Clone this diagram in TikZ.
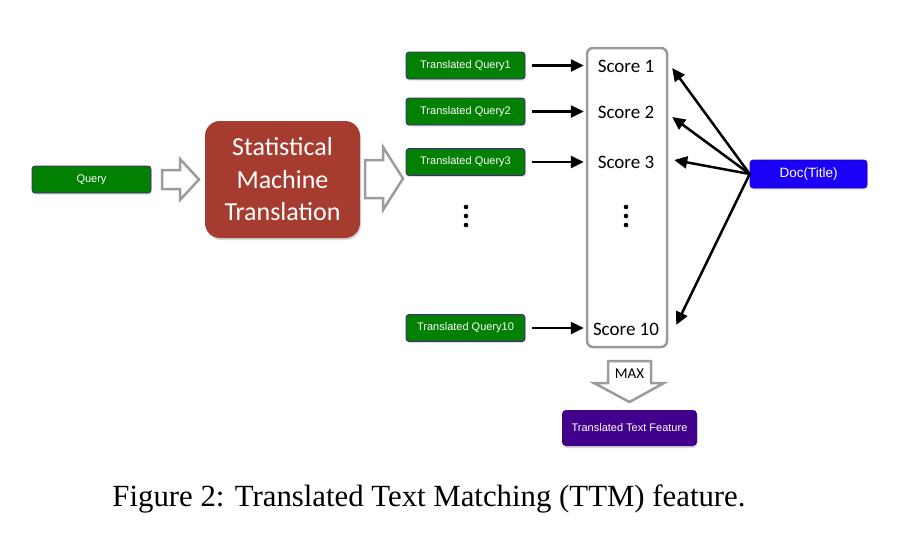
\documentclass[tikz,border=0pt]{standalone}
\usepackage{fontspec}
\setmainfont{Liberation Serif}
\newfontfamily\arialf{Liberation Sans}
\newfontfamily\calib{Carlito}
\usetikzlibrary{arrows.meta,shadows}
\definecolor{qgreen}{HTML}{018001}
\definecolor{qborder}{HTML}{4A1E8A}
\definecolor{smtred}{HTML}{A63C2F}
\definecolor{docblue}{HTML}{1C00F5}
\definecolor{featpurple}{HTML}{41008C}
\definecolor{hollowgray}{HTML}{9C9C9C}
\definecolor{scoregray}{HTML}{9A9A9A}
\tikzset{
  qbox/.style={draw=qborder, line width=0.8pt, fill=qgreen, rounded corners=3pt,
    minimum width=119pt, minimum height=27pt, inner sep=0pt, text=white,
    font=\arialf\fontsize{11}{13}\selectfont,
    drop shadow={shadow xshift=0.5pt, shadow yshift=-1.5pt, opacity=0.25}},
  smtbox/.style={fill=smtred, rounded corners=15pt, minimum width=155pt,
    minimum height=117pt, inner sep=0pt, text=white, align=center,
    font=\calib\fontsize{26}{32.5}\selectfont,
    drop shadow={shadow xshift=1pt, shadow yshift=-2pt, opacity=0.3}},
  docbox/.style={draw=docblue!80!black, line width=0.6pt, fill=docblue, rounded corners=3pt,
    minimum width=117pt, minimum height=28pt, inner sep=0pt, text=white,
    font=\arialf\fontsize{13.5}{15}\selectfont,
    drop shadow={shadow xshift=0.5pt, shadow yshift=-1.5pt, opacity=0.25}},
  featbox/.style={fill=featpurple, rounded corners=4pt,
    minimum width=135pt, minimum height=36pt, inner sep=0pt, text=white,
    font=\arialf\fontsize{11}{13}\selectfont,
    drop shadow={shadow xshift=0.5pt, shadow yshift=-2pt, opacity=0.3}},
  scorebox/.style={draw=scoregray, line width=2.5pt, fill=white, rounded corners=6pt,
    minimum width=80pt, minimum height=299pt, inner sep=0pt},
  scorelbl/.style={font=\calib\fontsize{19}{22}\selectfont, minimum width=92pt,
    inner sep=0pt, text=black},
  hollow/.style={draw=hollowgray, line width=2.5pt, fill=white, line join=miter},
  arr/.style={draw=black, line width=2.5pt, -{Triangle[length=13pt,width=12pt]}},
  dotstyle/.style={fill=black},
}
\begin{document}
\begin{tikzpicture}[x=1pt,y=-1pt]
\useasboundingbox (0,0) rectangle (908,552);
% left part
\node[qbox] (query) at (91.5,179.5) {Query};
\node[smtbox] (smt) at (282.5,179.5) {Statistical\\Machine\\Translation};
\draw[hollow] (162,170) -- (180,170) -- (180,159) -- (199,179.5) -- (180,200) -- (180,189) -- (162,189) -- cycle;
\draw[hollow] (365,160) -- (383,160) -- (383,147) -- (403,178.5) -- (383,210) -- (383,198) -- (365,198) -- cycle;
% translated queries
\node[qbox] (q1) at (465.5,65.5) {Translated Query1};
\node[qbox] (q2) at (465.5,111.5) {Translated Query2};
\node[qbox] (q3) at (465.5,162) {Translated Query3};
\node[qbox] (q10) at (465.5,328) {Translated Query10};
% score box
\node[scorebox] (sbox) at (627,197.5) {};
\node[scorelbl] (s1) at (626,66) {Score 1};
\node[scorelbl] (s2) at (626,112) {Score 2};
\node[scorelbl] (s3) at (626,162) {Score 3};
\node[scorelbl] (s10) at (626,329) {Score 10};
% dots
\foreach \yy in {207,216,225} {
  \fill[dotstyle] (466,\yy) circle (2.3pt);
  \fill[dotstyle] (626,\yy) circle (2.3pt);
}
% arrows query -> score
\draw[arr, shorten <=7pt, shorten >=2pt] (q1.east) -- (q1.east -| sbox.west);
\draw[arr, shorten <=7pt, shorten >=2pt] (q2.east) -- (q2.east -| sbox.west);
\draw[arr, shorten <=7pt, shorten >=2pt] (q3.east) -- (q3.east -| sbox.west);
\draw[arr, shorten <=7pt, shorten >=2pt] (q10.east) -- (q10.east -| sbox.west);
% doc
\node[docbox] (doc) at (808.5,174) {Doc(Title)};
\draw[arr] (doc.west) -- ([yshift=-2pt]s1.east);
\draw[arr] (doc.west) -- ([yshift=-5pt]s2.east);
\draw[arr] (doc.west) -- ([xshift=2pt,yshift=2pt]s3.east);
\draw[arr] (doc.west) -- ([xshift=4pt,yshift=4pt]s10.east);
% MAX
\draw[hollow] (608,361) -- (651,361) -- (651,383) -- (664,383) -- (629.5,402) -- (594,383) -- (608,383) -- cycle;
\node[font=\calib\fontsize{15}{17}\selectfont, inner sep=0pt] (maxl) at (629.5,373.5) {MAX};
\node[featbox] (feat) at (629.5,428) {Translated Text Feature};
% caption
\node[font=\fontsize{30.8}{34}\selectfont, inner sep=0pt] (cap) at (429,499) {Figure 2: Translated Text Matching (TTM) feature.};
\end{tikzpicture}
\end{document}
